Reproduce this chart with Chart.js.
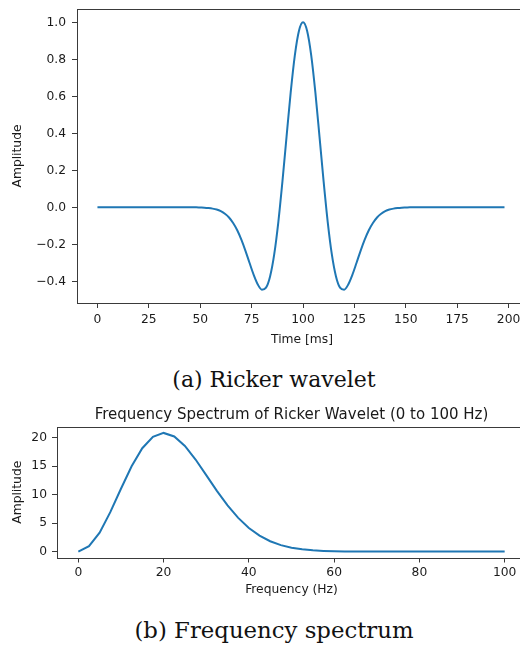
<!DOCTYPE html>
<html>
<head>
<meta charset="utf-8">
<title>Ricker wavelet</title>
<script src="https://cdn.jsdelivr.net/npm/chart.js@4.4.1/dist/chart.umd.min.js"></script>
<style>
  html, body { margin: 0; padding: 0; background: #fff; }
  body { width: 520px; height: 646px; overflow: hidden; position: relative; }
  .lienzo { position: absolute; left: 0; }
  .leyenda {
    position: absolute; left: 0; width: 548px; text-align: center;
    font-family: "DejaVu Serif", serif; line-height: 26px; color: #111;
  }
</style>
</head>
<body>
<div class="lienzo" style="top:0"><canvas id="grafWavelet" width="540" height="352"></canvas></div>
<div class="leyenda" style="top:367px; font-size:22px">(a) Ricker wavelet</div>
<div class="lienzo" style="top:395px"><canvas id="grafEspectro" width="540" height="205"></canvas></div>
<div class="leyenda" style="top:617px; font-size:22.8px">(b) Frequency spectrum</div>

<script>
/* datos de la ondicula (cada 2 ms) */
const tiempoMs = [
  0, 2, 4, 6, 8, 10, 12, 14, 16, 18, 20, 22, 24, 26, 28, 30, 32, 34, 36, 38,
  40, 42, 44, 46, 48, 50, 52, 54, 56, 58, 60, 62, 64, 66, 68, 70, 72, 74, 76, 78,
  80, 82, 84, 86, 88, 90, 92, 94, 96, 98, 100, 102, 104, 106, 108, 110, 112, 114, 116, 118,
  120, 122, 124, 126, 128, 130, 132, 134, 136, 138, 140, 142, 144, 146, 148, 150, 152, 154, 156, 158,
  160, 162, 164, 166, 168, 170, 172, 174, 176, 178, 180, 182, 184, 186, 188, 190, 192, 194, 196, 198
];
const amplitudWavelet = [
  0, 0, 0, 0, 0, 0, 0, 0, 0, 0, 0, 0, 0, 0, 0, 0, 0, 0, 0, 0,
  0, 0, 0, 0, 0, -0.001, -0.002, -0.004, -0.007, -0.012, -0.021, -0.035, -0.055, -0.085, -0.124, -0.175, -0.235, -0.301, -0.365, -0.417,
  -0.445, -0.434, -0.372, -0.253, -0.078, 0.142, 0.384, 0.621, 0.820, 0.953, 1.000, 0.953, 0.820, 0.621, 0.384, 0.142, -0.078, -0.253, -0.372, -0.434,
  -0.445, -0.417, -0.365, -0.301, -0.235, -0.175, -0.124, -0.085, -0.055, -0.035, -0.021, -0.012, -0.007, -0.004, -0.002, -0.001, 0, 0, 0, 0,
  0, 0, 0, 0, 0, 0, 0, 0, 0, 0, 0, 0, 0, 0, 0, 0, 0, 0, 0, 0
];
const ticksTiempo = [0, 25, 50, 75, 100, 125, 150, 175, 200];
const ticksAmplitud = [-0.4, -0.2, 0.0, 0.2, 0.4, 0.6, 0.8, 1.0];

/* espectro de frecuencia (cada 2.5 Hz) */
const frecuenciaHz = [
  0, 2.5, 5, 7.5, 10, 12.5, 15, 17.5, 20, 22.5, 25, 27.5, 30, 32.5, 35, 37.5, 40, 42.5, 45, 47.5,
  50, 52.5, 55, 57.5, 60, 62.5, 65, 67.5, 70, 72.5, 75, 77.5, 80, 82.5, 85, 87.5, 90, 92.5, 95, 97.5, 100
];
const amplitudEspectro = [
  0, 0.95, 3.32, 6.91, 11.01, 14.95, 18.12, 20.13, 20.80, 20.18, 18.52, 16.14, 13.41, 10.65, 8.10, 5.91, 4.14, 2.79, 1.81, 1.13,
  0.68, 0.40, 0.22, 0.12, 0.06, 0.03, 0.02, 0.01, 0, 0, 0, 0, 0, 0, 0, 0, 0, 0, 0, 0, 0
];
const ticksFrecuencia = [0, 20, 40, 60, 80, 100];
const ticksEspectro = [0, 5, 10, 15, 20];

const azul = "#1f77b4";
const colorTexto = "#1a1a1a";
const colorEje = "#3a3a3a";
const fuente = { family: "'DejaVu Sans', sans-serif", size: 12.3 };

// marco completo alrededor del area (como matplotlib)
const marco = {
  id: "marco",
  afterDraw(chart) {
    const { ctx, chartArea: a } = chart;
    ctx.save();
    ctx.strokeStyle = colorEje;
    ctx.lineWidth = 1;
    ctx.strokeRect(Math.round(a.left) + 0.5, Math.round(a.top) + 0.5,
      Math.round(a.right - a.left), Math.round(a.bottom - a.top));
    ctx.restore();
  }
};

function menos(v) {
  return String(v).replace("-", "\u2212");
}

// eje lineal con ticks fijos y tamano fijo (sin relleno extra de chart.js)
function armarEje(ticks, min, max, titulo, tamano, esX) {
  return {
    type: "linear",
    min: min,
    max: max,
    border: { display: false },
    grid: { display: true, drawOnChartArea: false, drawTicks: true, tickLength: 5, color: colorEje },
    afterBuildTicks: (escala) => { escala.ticks = ticks.map(v => ({ value: v })); },
    afterFit: (escala) => {
      if (esX) escala.height = tamano; else escala.width = tamano;
      escala.paddingTop = 0; escala.paddingBottom = 0;
      escala.paddingLeft = 0; escala.paddingRight = 0;
    },
    title: { display: true, text: titulo, color: colorTexto, font: fuente },
    ticks: { color: colorTexto, font: fuente, maxRotation: 0, autoSkip: false }
  };
}

function crearGrafica(id, xs, ys, opciones) {
  const puntos = xs.map((x, i) => ({ x: x, y: ys[i] }));
  return new Chart(document.getElementById(id), {
    type: "line",
    data: {
      datasets: [{
        data: puntos,
        borderColor: azul,
        borderWidth: 2,
        pointRadius: 0,
        fill: false,
        cubicInterpolationMode: opciones.suave ? "monotone" : "default",
        tension: 0
      }]
    },
    options: {
      responsive: false,
      animation: false,
      layout: { padding: opciones.padding },
      plugins: {
        legend: { display: false },
        tooltip: { enabled: false }
      },
      scales: opciones.escalas
    },
    plugins: [marco]
  });
}

/* (a) ondicula de Ricker */
const ejeXa = armarEje(ticksTiempo, -9.95, 208.95, "Time [ms]", 49, true);
ejeXa.title.padding = { top: 0, bottom: 4.6 };
ejeXa.ticks.padding = 4;

const ejeYa = armarEje(ticksAmplitud, -0.517, 1.072, "Amplitude", 77, false);
ejeYa.title.padding = { top: 10.6, bottom: 0 };
ejeYa.ticks.padding = 6;
ejeYa.ticks.callback = (v) => menos(v.toFixed(1));

crearGrafica("grafWavelet", tiempoMs, amplitudWavelet, {
  suave: true,
  padding: { top: 9, right: 13, left: 0, bottom: 0 },
  escalas: { x: ejeXa, y: ejeYa }
});

/* (b) espectro */
const ejeXb = armarEje(ticksFrecuencia, -5, 105, "Frequency (Hz)", 42.5, true);
ejeXb.title.padding = { top: 0, bottom: 2.6 };
ejeXb.ticks.padding = 2.5;

const ejeYb = armarEje(ticksEspectro, -1.04, 21.84, "Amplitude", 57, false);
ejeYb.title.padding = { top: 10.6, bottom: 0 };
ejeYb.ticks.padding = 5;

// titulo como eje superior vacio, asi queda centrado sobre el area del grafico
const ejeTitulo = {
  type: "linear",
  position: "top",
  min: 0,
  max: 1,
  border: { display: false },
  grid: { display: false, drawTicks: false },
  ticks: { display: false },
  title: {
    display: true,
    text: "Frequency Spectrum of Ricker Wavelet (0 to 100 Hz)",
    color: colorTexto,
    font: { family: "'DejaVu Sans', sans-serif", size: 15 },
    padding: { top: 11, bottom: 0 }
  },
  afterFit: (escala) => {
    escala.height = 32;
    escala.paddingLeft = 0; escala.paddingRight = 0;
  }
};

crearGrafica("grafEspectro", frecuenciaHz, amplitudEspectro, {
  suave: false,
  padding: { top: 0, right: 14, left: 0, bottom: 0 },
  escalas: { x: ejeXb, y: ejeYb, titulo: ejeTitulo }
});
</script>
</body>
</html>
